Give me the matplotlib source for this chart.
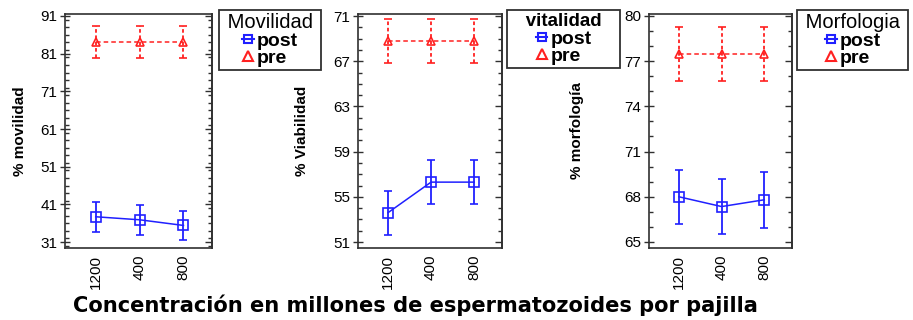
import matplotlib
matplotlib.use("Agg")
import matplotlib.pyplot as plt
from matplotlib.lines import Line2D
from matplotlib.ticker import MultipleLocator

# Datos
conc = ['1200', '400', '800']

mov_post = [37.7, 36.9, 35.4]
mov_post_err = [4.0, 4.0, 3.9]
mov_pre = [84.1, 84.1, 84.1]
mov_pre_err = [4.2, 4.2, 4.2]

via_post = [53.6, 56.3, 56.3]
via_post_err = [1.95, 1.95, 1.95]
via_pre = [68.8, 68.8, 68.8]
via_pre_err = [1.95, 1.95, 1.95]

mor_post = [68.0, 67.35, 67.8]
mor_post_err = [1.8, 1.8, 1.85]
mor_pre = [77.5, 77.5, 77.5]
mor_pre_err = [1.8, 1.8, 1.8]

W, H = 913, 320
fig = plt.figure(figsize=(W / 100, H / 100), dpi=100)
plt.rcParams['font.family'] = ['Liberation Sans', 'DejaVu Sans']

BLUE = '#2020ff'
RED = '#ff2020'
FRAME = '#303030'


def px_axes(x0, x1, y0, y1):
    return fig.add_axes([x0 / W, 1 - y1 / H, (x1 - x0) / W, (y1 - y0) / H])


paneles = [
    # (post, err, pre, err, ylim, minor, ylabel, eje x px, leyenda px, titulo, peso, tamaño)
    (mov_post, mov_post_err, mov_pre, mov_pre_err, (29.41, 91.53), 2,
     '% movilidad', (65, 212), (219, 10), ' Movilidad ', 'normal', 14.5),
    (via_post, via_post_err, via_pre, via_pre_err, (50.47, 71.18), 1,
     '% Viabilidad', (358, 502), (507, 10), '   vitalidad   ', 'bold', 13.5),
    (mor_post, mor_post_err, mor_pre, mor_pre_err, (64.6, 80.13), 1,
     '% morfología', (649, 792), (797, 10), ' Morfologia ', 'normal', 14.5),
]
ylabel_x = [27, 309, 584]
ticks_y = {0: [31, 41, 51, 61, 71, 81, 91], 1: [51, 55, 59, 63, 67, 71],
           2: [65, 68, 71, 74, 77, 80]}

x = list(range(len(conc)))

for i, (post, perr, pre, prerr, ylim, mnr, ylab, (xa, xb), (lx, ly), ltit, lw, lsz) in enumerate(paneles):
    ax = px_axes(xa, xb, 14, 248)

    ax.errorbar(x, post, yerr=perr, color=BLUE, marker='s', ms=6.5, mfc='none',
                mec=BLUE, mew=1.2, lw=1.1, capsize=3, elinewidth=1.3, capthick=1.3)
    eb = ax.errorbar(x, pre, yerr=prerr, color=RED, marker='^', ms=6, mfc='none',
                     mec=RED, mew=1.2, lw=1.1, ls=(0, (3, 2)), capsize=3,
                     elinewidth=1.3, capthick=1.3)
    for bl in eb[2]:
        bl.set_linestyle((0, (2, 1.5)))

    ax.set_xlim(-0.7, 2.65)
    ax.set_ylim(*ylim)
    ax.set_xticks(x)
    ax.set_xticklabels(conc, rotation=90, fontsize=11)
    ax.set_yticks(ticks_y[i])
    ax.yaxis.set_minor_locator(MultipleLocator(mnr))
    ax.tick_params(axis='x', length=0, pad=5)
    ax.tick_params(axis='y', which='major', direction='inout', length=7,
                   width=1, color=FRAME, labelsize=11, pad=2)
    ax.tick_params(axis='y', which='minor', direction='in', length=3,
                   width=1, color=FRAME)
    for s in ax.spines.values():
        s.set_color(FRAME)
        s.set_linewidth(1.2)

    # marcas del lado derecho hacia dentro
    sec = ax.secondary_yaxis('right')
    sec.set_yticks(ticks_y[i])
    sec.yaxis.set_minor_locator(MultipleLocator(mnr))
    sec.tick_params(which='major', direction='in', length=5, width=1,
                    color=FRAME, labelright=False)
    sec.tick_params(which='minor', direction='in', length=3, width=1,
                    color=FRAME)
    sec.spines['right'].set_color(FRAME)
    sec.spines['right'].set_linewidth(1.2)

    ax.set_ylabel(ylab, fontsize=11, fontweight='bold')
    ax.yaxis.set_label_coords((ylabel_x[i] - xa) / (xb - xa), 0.5)

    handles = [
        Line2D([], [], color=BLUE, marker='s', ms=5.5, mfc='none', mec=BLUE, mew=1.5, lw=1.5),
        Line2D([], [], color=RED, marker='^', ms=7, mfc='none', mec=RED, mew=1.5, lw=0),
    ]
    leg = fig.legend(handles, ['post', 'pre'], loc='upper left',
                     bbox_to_anchor=(lx / W, 1 - ly / H), bbox_transform=fig.transFigure,
                     title=ltit, fancybox=False, framealpha=1, edgecolor=FRAME,
                     handlelength=0.6, handletextpad=0.15, borderpad=0.15,
                     labelspacing=0.0, borderaxespad=0, alignment='center',
                     prop={'size': 14, 'weight': 'bold'},
                     title_fontproperties={'size': lsz, 'weight': lw})
    leg.get_frame().set_linewidth(1.3)
    leg._legend_box.sep = 0

xl = fig.text(415 / W, 1 - 305 / H, 'Concentración en millones de espermatozoides por pajilla',
              ha='center', va='center', fontsize=13, fontweight='bold', family='DejaVu Sans')

# ajustar el tamaño del texto inferior al ancho del original
fig.canvas.draw()
ancho = xl.get_window_extent().width
xl.set_fontsize(13 * 680 / ancho)

fig.savefig('out.png', dpi=100)
